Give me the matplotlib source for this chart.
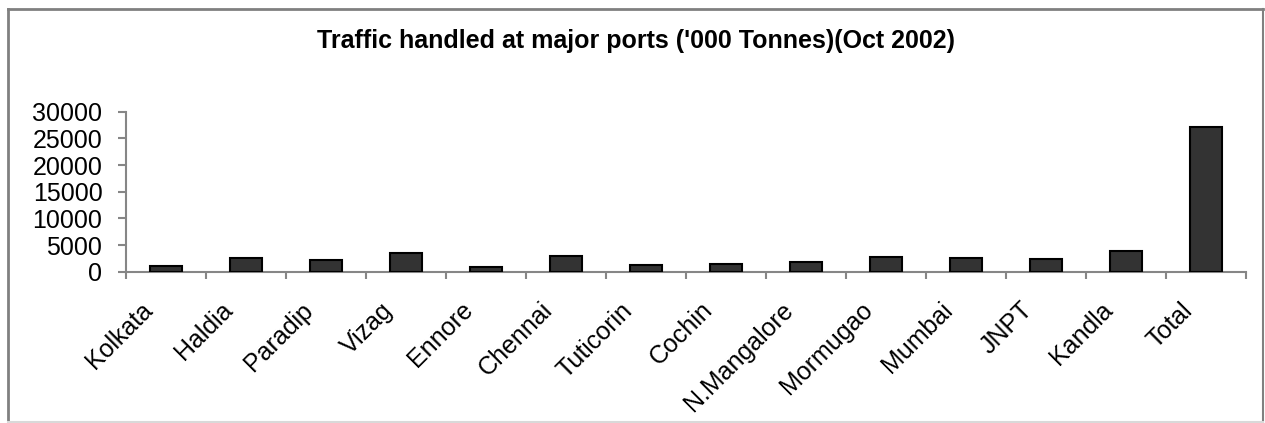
import numpy as np
import matplotlib
matplotlib.use('Agg')
import matplotlib.pyplot as plt
import matplotlib.transforms as transforms
from matplotlib.lines import Line2D

plt.rcParams['font.family'] = ['Liberation Sans', 'DejaVu Sans']

ports = ['Kolkata', 'Haldia', 'Paradip', 'Vizag', 'Ennore', 'Chennai', 'Tuticorin',
         'Cochin', 'N.Mangalore', 'Mormugao', 'Mumbai', 'JNPT', 'Kandla', 'Total']
traffic = [1000, 2500, 2200, 3430, 800, 3000, 1180,
           1440, 1750, 2800, 2560, 2300, 3800, 27200]
y_ticks = [0, 5000, 10000, 15000, 20000, 25000, 30000]

fig = plt.figure(figsize=(12.65, 4.23), dpi=100)
ax = fig.add_axes([126 / 1265, 151.3 / 423, 1120 / 1265, 160 / 423])

x = np.arange(len(ports))
ax.bar(x, traffic, width=0.4, color='#333333', edgecolor='black', linewidth=1.5, zorder=3)

ax.set_xlim(-0.5, len(ports) - 0.5)
ax.set_ylim(0, 30000)
ax.set_yticks(y_ticks)
ax.set_yticklabels([str(v) for v in y_ticks], fontsize=18)

# tick marks between categories, labels at the centres
ax.set_xticks(np.arange(len(ports) + 1) - 0.5)
ax.set_xticklabels([])
ax.set_xticks(x, minor=True)
ax.set_xticklabels(ports, minor=True, fontsize=18, rotation=45,
                   ha='right', va='center', rotation_mode='anchor')
ax.tick_params(axis='x', which='major', direction='out', length=5, width=1.5, color='#868686')
ax.tick_params(axis='x', which='minor', length=0, pad=25)
ax.tick_params(axis='y', direction='out', length=6, width=1.5, color='#868686', pad=11)

offset = transforms.ScaledTranslation(-17 / 100, 0, fig.dpi_scale_trans)
for lbl in ax.get_xticklabels(minor=True):
    lbl.set_transform(lbl.get_transform() + offset)

for side in ['top', 'right']:
    ax.spines[side].set_visible(False)
for side in ['left', 'bottom']:
    ax.spines[side].set_color('#868686')
    ax.spines[side].set_linewidth(1.5)

fig.text(636 / 1265, 1 - 48 / 423, "Traffic handled at major ports ('000 Tonnes)(Oct 2002)",
         ha='center', va='baseline', fontsize=18, fontweight='bold')

# chart border
x0, x1 = 8 / 1265, 1263 / 1265
y0, y1 = 1 - 422 / 423, 1 - 9 / 423
fig.add_artist(Line2D([x0, x1], [y1, y1], color='#808080', lw=2, transform=fig.transFigure))
fig.add_artist(Line2D([x0, x0], [y0, y1], color='#808080', lw=2, transform=fig.transFigure))
fig.add_artist(Line2D([x1, x1], [y0, y1], color='#808080', lw=1.5, transform=fig.transFigure))
fig.add_artist(Line2D([x0, x1], [y0, y0], color='#d9d9d9', lw=1.5, transform=fig.transFigure))

fig.savefig('out.png', dpi=100)
